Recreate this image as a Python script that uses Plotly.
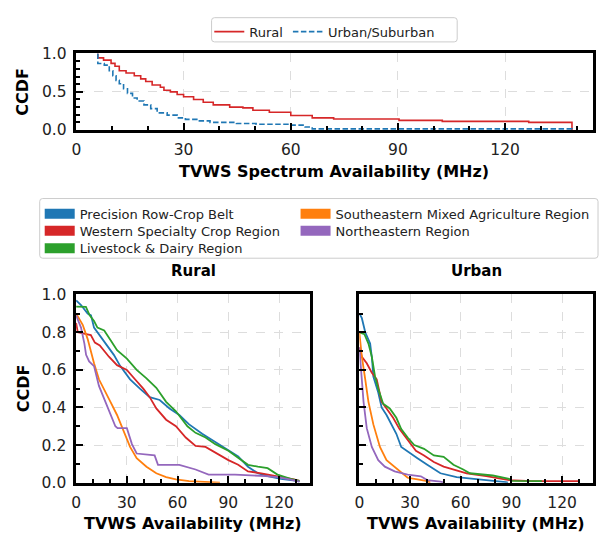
import plotly.graph_objects as go

# ---------------- data ----------------
# Top panel: CCDF steps (x where the curve drops, value after the drop)
top_rural_x = [6, 6, 7.6, 9.7, 10.8, 12, 13.9, 16.2, 18, 19.4, 21.2, 23.5, 24.5, 26.3, 28.2, 30, 32.8, 35.5,
               38.3, 42.9, 46.6, 49.4, 54, 60, 66, 72, 90.3, 102.4, 126.6, 138.7]
top_rural_y = [1.0, 0.945, 0.915, 0.873, 0.835, 0.775, 0.746, 0.71, 0.67, 0.636, 0.59, 0.56, 0.52, 0.50, 0.466,
               0.436, 0.40, 0.364, 0.33, 0.30, 0.29, 0.26, 0.233, 0.19, 0.16, 0.145, 0.127, 0.114, 0.10, 0.0]
top_urban_x = [6, 6, 7.8, 9.2, 10.2, 11.1, 12, 13.2, 14.3, 15.7, 17, 18.9, 20.8, 22.6, 25.4, 28.2, 30.5, 33.7,
               37.4, 44.8, 50.3, 60, 64, 66, 138.7]
top_urban_y = [1.0, 0.87, 0.85, 0.775, 0.71, 0.65, 0.606, 0.54, 0.48, 0.42, 0.38, 0.33, 0.28, 0.225, 0.195, 0.16,
               0.14, 0.12, 0.10, 0.085, 0.076, 0.065, 0.04, 0.015, 0.0]

regions = ["Precision Row-Crop Belt", "Western Specialty Crop Region", "Livestock & Dairy Region",
           "Southeastern Mixed Agriculture Region", "Northeastern Region"]
region_colors = ["#1f77b4", "#d62728", "#2ca02c", "#ff7f0e", "#9467bd"]

# Bottom-left (Rural) CCDF curves per region
rural_precision_x = [0, 2.9, 6.8, 8.8, 10.6, 16.5, 22.3, 26.1, 31.9, 37.7, 43.5, 49.4, 55.2, 61, 66.8, 74.5, 82.3,
                     90, 95.8, 101.6, 107.4, 113.2, 121, 130.6, 132]
rural_precision_y = [0.97, 0.945, 0.90, 0.89, 0.825, 0.75, 0.68, 0.62, 0.55, 0.50, 0.455, 0.44, 0.395, 0.36, 0.31,
                     0.26, 0.215, 0.17, 0.14, 0.085, 0.05, 0.035, 0.02, 0.01, 0.005]
rural_western_x = [0, 1, 8.7, 11.1, 14, 16.5, 19.4, 24.2, 30, 34.8, 39.7, 43.5, 47.4, 53.2, 59, 64.8, 70.6, 76.5,
                   82.3, 90, 95.8, 101.6, 109.4, 119, 128.7, 132]
rural_western_y = [0.85, 0.80, 0.785, 0.745, 0.73, 0.70, 0.67, 0.625, 0.60, 0.55, 0.50, 0.455, 0.395, 0.335, 0.30,
                   0.24, 0.195, 0.19, 0.16, 0.12, 0.095, 0.06, 0.05, 0.035, 0.017, 0.01]
rural_livestock_x = [0, 5.8, 8, 10.6, 12.6, 16.6, 20.5, 24.2, 30, 35.8, 41.6, 47.4, 53.2, 59, 65.8, 70.6, 76.5,
                     82.3, 90, 93.9, 101.6, 107.4, 113.2, 119, 126.8, 132]
rural_livestock_y = [0.937, 0.935, 0.89, 0.86, 0.825, 0.81, 0.756, 0.705, 0.66, 0.60, 0.555, 0.505, 0.43, 0.38,
                     0.30, 0.265, 0.24, 0.205, 0.17, 0.145, 0.095, 0.085, 0.077, 0.043, 0.02, 0.01]
rural_southeast_x = [0, 2, 3.9, 6.8, 8.8, 10.6, 13.5, 16.5, 20.3, 24.2, 28.1, 31.9, 35.8, 41.6, 47.4, 53.2, 59,
                     66.8, 85]
rural_southeast_y = [0.90, 0.87, 0.84, 0.765, 0.69, 0.635, 0.55, 0.50, 0.43, 0.36, 0.275, 0.19, 0.13, 0.085, 0.05,
                     0.03, 0.017, 0.008, 0.0]
rural_northeast_x = [0, 1.5, 2.9, 4.9, 5.9, 7.7, 10.6, 13.5, 16.5, 20.3, 23.2, 24.5, 30, 33, 35.8, 46.4, 48.4, 61,
                     70.6, 78.3, 93.9, 112, 119, 124.8, 130.6, 132]
rural_northeast_y = [0.89, 0.86, 0.825, 0.74, 0.68, 0.645, 0.62, 0.515, 0.445, 0.36, 0.30, 0.29, 0.29, 0.205, 0.155,
                     0.145, 0.095, 0.095, 0.07, 0.043, 0.043, 0.035, 0.03, 0.02, 0.01, 0.005]

# Bottom-right (Urban) CCDF curves per region
urban_precision_x = [0, 1.5, 3.5, 6.4, 7.5, 8.3, 11.2, 13.2, 16.1, 19, 21.9, 24.8, 28.6, 34.4, 40.2, 48, 57.6,
                     67.3, 77, 86.7, 88]
urban_precision_y = [0.90, 0.875, 0.80, 0.74, 0.66, 0.565, 0.48, 0.40, 0.36, 0.31, 0.26, 0.19, 0.165, 0.13, 0.095,
                     0.05, 0.03, 0.022, 0.014, 0.003, 0.0]
urban_western_x = [0, 1.5, 4.4, 7.4, 10.3, 13.2, 16.1, 20, 23.8, 28.6, 33.5, 38.3, 44.1, 49.9, 55.7, 63.5, 75.1,
                   88.6, 102, 130]
urban_western_y = [0.72, 0.67, 0.635, 0.585, 0.55, 0.43, 0.395, 0.345, 0.285, 0.225, 0.17, 0.145, 0.11, 0.085,
                   0.07, 0.05, 0.035, 0.014, 0.008, 0.008]
urban_livestock_x = [0, 3, 5.4, 7.4, 9.3, 11.2, 14.1, 18, 21.9, 24.8, 28.6, 32.5, 38.3, 44.1, 49.9, 55.7, 61.5,
                     65.4, 79, 88.6, 90, 108]
urban_livestock_y = [0.80, 0.79, 0.74, 0.67, 0.565, 0.50, 0.42, 0.395, 0.345, 0.285, 0.24, 0.20, 0.18, 0.145,
                     0.137, 0.095, 0.07, 0.05, 0.038, 0.02, 0.01, 0.008]
urban_southeast_x = [0, 1.5, 3.5, 5.4, 8.3, 12.2, 16.1, 20.9, 24.8, 28.6, 34.4, 40.2, 42]
urban_southeast_y = [0.80, 0.67, 0.55, 0.43, 0.31, 0.19, 0.12, 0.085, 0.055, 0.026, 0.017, 0.008, 0.0]
urban_northeast_x = [0, 1.5, 2.5, 4.4, 7.4, 11.2, 15.1, 20.9, 28.6, 36.4, 40.2, 48, 50]
urban_northeast_y = [0.72, 0.565, 0.43, 0.29, 0.19, 0.12, 0.085, 0.06, 0.043, 0.034, 0.014, 0.005, 0.0]

rural_series = [(rural_precision_x, rural_precision_y), (rural_western_x, rural_western_y),
                (rural_livestock_x, rural_livestock_y), (rural_southeast_x, rural_southeast_y),
                (rural_northeast_x, rural_northeast_y)]
urban_series = [(urban_precision_x, urban_precision_y), (urban_western_x, urban_western_y),
                (urban_livestock_x, urban_livestock_y), (urban_southeast_x, urban_southeast_y),
                (urban_northeast_x, urban_northeast_y)]

x_ticks = [0, 30, 60, 90, 120]

# ---------------- figure ----------------
W, H = 600, 543
FONT = "DejaVu Sans"


def px(v):
    return v / W


def py(v):
    return 1 - v / H


fig = go.Figure()

fig.add_trace(go.Scatter(x=top_rural_x, y=top_rural_y, mode="lines", name="Rural",
                         line=dict(color="#d62728", width=1.6, shape="hv"),
                         xaxis="x", yaxis="y", legend="legend"))
fig.add_trace(go.Scatter(x=top_urban_x, y=top_urban_y, mode="lines", name="Urban/Suburban",
                         line=dict(color="#1f77b4", width=1.6, shape="hv", dash="5.5px,2.5px"),
                         xaxis="x", yaxis="y", legend="legend"))

for (sx, sy), col in zip(rural_series, region_colors):
    fig.add_trace(go.Scatter(x=sx, y=sy, mode="lines", showlegend=False,
                             line=dict(color=col, width=1.8), xaxis="x2", yaxis="y2"))
for (sx, sy), col in zip(urban_series, region_colors):
    fig.add_trace(go.Scatter(x=sx, y=sy, mode="lines", showlegend=False,
                             line=dict(color=col, width=1.8), xaxis="x3", yaxis="y3"))

# legend-only entries for the region legend (two columns, one legend per entry)
region_legend_ids = ["legend2", "legend3", "legend4", "legend5", "legend6"]
region_legend_pos = [(35, 197), (35, 214.5), (35, 232.5), (293, 197), (293, 214.5)]
for name, col, lg in zip(regions, region_colors, region_legend_ids):
    fig.add_trace(go.Scatter(x=[None], y=[None], mode="lines", name=name, legend=lg,
                             line=dict(color=col, width=12), xaxis="x2", yaxis="y2"))

tickfont = dict(family=FONT, size=15.5, color="#222222")
MINOR = dict(ticks="inside", ticklen=4, tickwidth=1.5, tickcolor="black", showgrid=False)


def base_axis(**kw):
    d = dict(showline=True, linecolor="black", linewidth=2.5, mirror=True,
             ticks="inside", ticklen=7, tickwidth=2, tickcolor="black",
             showgrid=True, gridcolor="#dddddd", griddash="dash", gridwidth=0.8,
             zeroline=False, tickfont=tickfont, ticklabelstandoff=4)
    d.update(kw)
    return d


def mirror_axis(**kw):
    d = dict(showline=False, ticks="inside", ticklen=7, tickwidth=2, tickcolor="black",
             showgrid=False, zeroline=False, showticklabels=False)
    d.update(kw)
    return d


XR_TOP = [0, 144.6]
XR_BOT = [0, 138.5]
YR = [0, 1.005]

dom_top_x = [px(72), px(593)]
dom_top_y = [py(126), py(46.7)]
dom_bl_x = [px(71.7), px(308)]
dom_br_x = [px(357.3), px(593.3)]
dom_bot_y = [py(490), py(295)]

LEG_FONT = dict(family=FONT, size=13, color="#222222")
CLEAR = "rgba(0,0,0,0)"

layout_legends = dict(
    legend=dict(orientation="h", x=px(206), y=py(9), xanchor="left", yanchor="top",
                bgcolor=CLEAR, borderwidth=0, font=LEG_FONT),
)
for lg, (lx, ly) in zip(region_legend_ids, region_legend_pos):
    layout_legends[lg] = dict(orientation="v", x=px(lx), y=py(ly), xanchor="left", yanchor="top",
                              bgcolor=CLEAR, borderwidth=0, font=LEG_FONT)

fig.update_layout(
    width=W, height=H,
    margin=dict(l=0, r=0, t=0, b=0),
    paper_bgcolor="white", plot_bgcolor="white",
    font=dict(family=FONT, color="#222222"),
    xaxis=base_axis(domain=dom_top_x, range=XR_TOP, anchor="y", tickmode="array", tickvals=x_ticks,
                    minor=dict(MINOR, dtick=10)),
    yaxis=base_axis(domain=dom_top_y, range=YR, anchor="x", dtick=0.5, tick0=0, tickformat=".1f",
                    minor=dict(MINOR, dtick=0.1)),
    xaxis2=base_axis(domain=dom_bl_x, range=XR_BOT, anchor="y2", tickmode="array", tickvals=x_ticks,
                     minor=dict(MINOR, dtick=10)),
    yaxis2=base_axis(domain=dom_bot_y, range=YR, anchor="x2", dtick=0.2, tick0=0, tickformat=".1f",
                     minor=dict(MINOR, dtick=0.1)),
    xaxis3=base_axis(domain=dom_br_x, range=XR_BOT, anchor="y3", tickmode="array", tickvals=x_ticks,
                     minor=dict(MINOR, dtick=10)),
    yaxis3=base_axis(domain=dom_bot_y, range=YR, anchor="x3", dtick=0.2, tick0=0, tickformat=".1f",
                     showticklabels=False, minor=dict(MINOR, dtick=0.1)),
    # mirrored major ticks on top / right
    xaxis4=mirror_axis(overlaying="x", anchor="y", side="top", range=XR_TOP, tickmode="array", tickvals=x_ticks),
    yaxis4=mirror_axis(overlaying="y", anchor="x", side="right", range=YR, dtick=0.5, tick0=0),
    xaxis5=mirror_axis(overlaying="x2", anchor="y2", side="top", range=XR_BOT, tickmode="array", tickvals=x_ticks),
    yaxis5=mirror_axis(overlaying="y2", anchor="x2", side="right", range=YR, dtick=0.2, tick0=0),
    xaxis6=mirror_axis(overlaying="x3", anchor="y3", side="top", range=XR_BOT, tickmode="array", tickvals=x_ticks),
    yaxis6=mirror_axis(overlaying="y3", anchor="x3", side="right", range=YR, dtick=0.2, tick0=0),
    **layout_legends,
)


def rounded_box(x0, y0, x1, y1, r=3):
    # pixel coords (top-left origin) -> paper coords path with rounded corners
    rx, ry = r / W, r / H
    X0, X1 = px(x0), px(x1)
    Yt, Yb = py(y0), py(y1)
    path = (f"M{X0 + rx},{Yt} L{X1 - rx},{Yt} Q{X1},{Yt} {X1},{Yt - ry} "
            f"L{X1},{Yb + ry} Q{X1},{Yb} {X1 - rx},{Yb} "
            f"L{X0 + rx},{Yb} Q{X0},{Yb} {X0},{Yb + ry} "
            f"L{X0},{Yt - ry} Q{X0},{Yt} {X0 + rx},{Yt} Z")
    fig.add_shape(type="path", path=path, xref="paper", yref="paper",
                  line=dict(color="#cccccc", width=1), fillcolor="white", layer="below")


rounded_box(208.3, 10, 456, 35)
rounded_box(35, 196.7, 598, 258.3)


def label(text, x, y, size=16, angle=0):
    fig.add_annotation(text="<b>" + text + "</b>", x=px(x), y=py(y), xref="paper", yref="paper",
                       showarrow=False, xanchor="center", yanchor="middle", textangle=angle,
                       font=dict(family=FONT, size=size, color="black"))


label("CCDF", 18.3, 86.4, angle=-90)
label("CCDF", 18.3, 392.5, angle=-90)
label("TVWS Spectrum Availability (MHz)", 332, 168.3)
label("TVWS Availability (MHz)", 190, 532.3)
label("TVWS Availability (MHz)", 475.3, 532.3)
label("Rural", 190, 271, size=15)
label("Urban", 475.3, 271, size=15)

fig.write_html("out.html")
